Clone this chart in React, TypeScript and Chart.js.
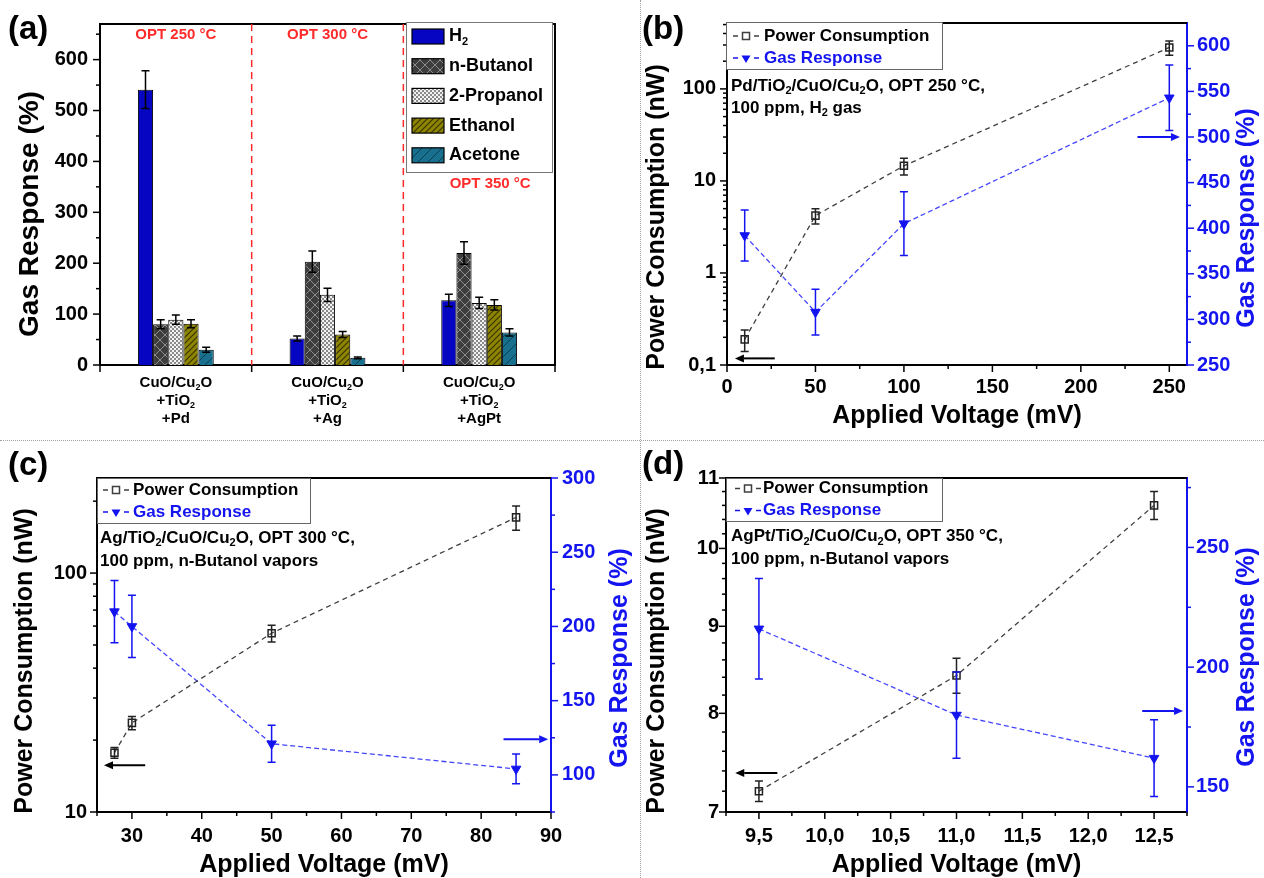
import React, { useEffect, useRef } from "react";
import { Chart, registerables } from "chart.js";

Chart.register(...registerables);

const FONT = '"Liberation Sans", Arial, Helvetica, sans-serif';
Chart.defaults.font.family = FONT;

const BLUE = "#1414f0";
const BLUE_DASH = "#4545ff";
const GRAY_DASH = "#3f3f3f";
const RED = "#ff2b2b";

// ---------------- Panel (a) data ----------------
const groupLabelsA = [
  ["CuO/Cu_2O", "+TiO_2", "+Pd"],
  ["CuO/Cu_2O", "+TiO_2", "+Ag"],
  ["CuO/Cu_2O", "+TiO_2", "+AgPt"],
];
const optLabelsA = ["OPT 250 °C", "OPT 300 °C", "OPT 350 °C"];
const gasNamesA = ["H_2", "n-Butanol", "2-Propanol", "Ethanol", "Acetone"];
const h2A = [541, 52, 127];
const h2ErrA = [37, 5, 12];
const butanolA = [80, 203, 220];
const butanolErrA = [9, 21, 22];
const propanolA = [89, 138, 122];
const propanolErrA = [9, 13, 11];
const ethanolA = [81, 60, 118];
const ethanolErrA = [8, 6, 10];
const acetoneA = [30, 14, 64];
const acetoneErrA = [5, 1.5, 7];
const yTicksA = [0, 100, 200, 300, 400, 500, 600];
const yMinorA = [50, 150, 250, 350, 450, 550, 650];

// ---------------- Panel (b) data ----------------
const voltageB = [10, 50, 100, 250];
const powerB = [0.19, 4.2, 14.6, 282];
const powerErrB = [0.05, 0.8, 3, 50];
const gasB = [392, 308, 405, 543];
const gasErrB = [28, 25, 35, 36];
const xTicksB = [0, 50, 100, 150, 200, 250];
const xMinorB = [25, 75, 125, 175, 225];
const yTicksB = [0.1, 1, 10, 100];
const yMinorB = [0.2, 0.3, 0.4, 0.5, 0.6, 0.7, 0.8, 0.9, 2, 3, 4, 5, 6, 7, 8, 9, 20, 30, 40, 50, 60, 70, 80, 90, 200, 300, 400, 500];
const y1TicksB = [250, 300, 350, 400, 450, 500, 550, 600];
const y1MinorB = [275, 325, 375, 425, 475, 525, 575];

// ---------------- Panel (c) data ----------------
const voltageC = [27.5, 30, 50, 85];
const powerC = [17.7, 23.6, 56, 171];
const powerErrC = [0.9, 1.5, 4.5, 20];
const gasC = [210, 200, 121, 104];
const gasErrC = [21, 21, 12.5, 10];
const xTicksC = [30, 40, 50, 60, 70, 80, 90];
const xMinorC = [25, 35, 45, 55, 65, 75, 85];
const yTicksC = [10, 100];
const yMinorC = [20, 30, 40, 50, 60, 70, 80, 90, 200];
const y1TicksC = [100, 150, 200, 250, 300];
const y1MinorC = [75, 125, 175, 225, 275];

// ---------------- Panel (d) data ----------------
const voltageD = [9.5, 11, 12.5];
const powerD = [7.2, 8.42, 10.6];
const powerErrD = [0.1, 0.2, 0.2];
const gasD = [216, 180, 162];
const gasErrD = [21, 18, 16];
const xTicksD = [9.5, 10, 10.5, 11, 11.5, 12, 12.5];
const xMinorD = [9.25, 9.75, 10.25, 10.75, 11.25, 11.75, 12.25, 12.75];
const yTicksD = [7, 8, 9, 10, 11];
const yMinorD = [7.2, 7.4, 7.6, 7.8, 8.2, 8.4, 8.6, 8.8, 9.2, 9.4, 9.6, 9.8, 10.2, 10.4, 10.6, 10.8];
const y1TicksD = [150, 200, 250];
const y1MinorD = [175, 225, 275];

// ---------------- helpers ----------------
function richText(ctx: CanvasRenderingContext2D, text: string, x: number, y: number, size: number, color: string, align = "left", rot = 0) {
  const segs: { t: string; sub: boolean; w: number }[] = [];
  let buf = "";
  for (let i = 0; i < text.length; i++) {
    if (text[i] === "_" && i + 1 < text.length) {
      if (buf) segs.push({ t: buf, sub: false, w: 0 });
      buf = "";
      segs.push({ t: text[i + 1], sub: true, w: 0 });
      i++;
    } else buf += text[i];
  }
  if (buf) segs.push({ t: buf, sub: false, w: 0 });
  const sub = Math.round(size * 0.62);
  let total = 0;
  for (const s of segs) {
    ctx.font = `bold ${s.sub ? sub : size}px ${FONT}`;
    s.w = ctx.measureText(s.t).width;
    total += s.w;
  }
  ctx.save();
  ctx.translate(x, y);
  if (rot) ctx.rotate(rot);
  ctx.fillStyle = color;
  ctx.textAlign = "left";
  ctx.textBaseline = "middle";
  let cx = align === "left" ? 0 : align === "center" ? -total / 2 : -total;
  for (const s of segs) {
    ctx.font = `bold ${s.sub ? sub : size}px ${FONT}`;
    ctx.fillText(s.t, cx, s.sub ? size * 0.32 : 0);
    cx += s.w;
  }
  ctx.restore();
}

function arrow(ctx: CanvasRenderingContext2D, x1: number, x2: number, y: number, color: string) {
  const dir = Math.sign(x2 - x1);
  const head = 9;
  const hw = 4;
  ctx.save();
  ctx.strokeStyle = color;
  ctx.fillStyle = color;
  ctx.lineWidth = 2;
  ctx.beginPath();
  ctx.moveTo(x1, y);
  ctx.lineTo(x2 - dir * head, y);
  ctx.stroke();
  ctx.beginPath();
  ctx.moveTo(x2, y);
  ctx.lineTo(x2 - dir * head, y - hw);
  ctx.lineTo(x2 - dir * head, y + hw);
  ctx.closePath();
  ctx.fill();
  ctx.restore();
}

function legendSym(ctx: CanvasRenderingContext2D, cx: number, cy: number, color: string, kind: string) {
  ctx.save();
  ctx.strokeStyle = color;
  ctx.fillStyle = color;
  ctx.lineWidth = 1.3;
  ctx.beginPath();
  ctx.moveTo(cx - 13, cy);
  ctx.lineTo(cx - 8, cy);
  ctx.moveTo(cx + 8, cy);
  ctx.lineTo(cx + 13, cy);
  ctx.stroke();
  if (kind === "square") {
    ctx.lineWidth = 1.5;
    ctx.strokeRect(cx - 3.5, cy - 3.5, 7, 7);
  } else {
    ctx.beginPath();
    ctx.moveTo(cx - 4.5, cy - 2.5);
    ctx.lineTo(cx + 4.5, cy - 2.5);
    ctx.lineTo(cx, cy + 5);
    ctx.closePath();
    ctx.fill();
  }
  ctx.restore();
}

function makePattern(kind: string): any {
  const c = document.createElement("canvas");
  const g = c.getContext("2d")!;
  if (kind === "cross") {
    c.width = 10; c.height = 10;
    g.fillStyle = "#3d3d3d"; g.fillRect(0, 0, 10, 10);
    g.strokeStyle = "#8c8c8c"; g.lineWidth = 1;
    g.beginPath(); g.moveTo(0, 0); g.lineTo(10, 10); g.moveTo(10, 0); g.lineTo(0, 10); g.stroke();
  } else if (kind === "check") {
    c.width = 4; c.height = 4;
    g.fillStyle = "#f2f2f2"; g.fillRect(0, 0, 4, 4);
    g.fillStyle = "#8a8a8a"; g.fillRect(0, 0, 2, 2); g.fillRect(2, 2, 2, 2);
  } else if (kind === "olive") {
    c.width = 6; c.height = 6;
    g.fillStyle = "#8d8400"; g.fillRect(0, 0, 6, 6);
    g.strokeStyle = "#3a3500"; g.lineWidth = 1.2;
    g.beginPath(); g.moveTo(-1, 7); g.lineTo(7, -1); g.moveTo(-1, 1); g.lineTo(1, -1); g.moveTo(5, 7); g.lineTo(7, 5); g.stroke();
  } else {
    c.width = 10; c.height = 10;
    g.fillStyle = "#18708e"; g.fillRect(0, 0, 10, 10);
    g.strokeStyle = "#0b3f52"; g.lineWidth = 1;
    g.beginPath(); g.moveTo(-1, 11); g.lineTo(11, -1); g.stroke();
  }
  return g.createPattern(c, "repeat");
}

const errorBars = {
  id: "errorBars",
  afterDatasetsDraw(chart: any) {
    const ctx = chart.ctx;
    chart.data.datasets.forEach((ds: any, di: number) => {
      if (!ds.errors) return;
      const meta = chart.getDatasetMeta(di);
      const ys = chart.scales[meta.yAxisID];
      ctx.save();
      ctx.strokeStyle = ds.errorColor || "#000";
      ctx.lineWidth = 1.5;
      const cap = ds.errorCap || 4;
      meta.data.forEach((el: any, i: number) => {
        const raw = ds.data[i];
        const v = typeof raw === "number" ? raw : raw.y;
        const e = ds.errors[i];
        const x = el.x;
        const yt = ys.getPixelForValue(v + e);
        const yb = ys.getPixelForValue(v - e);
        ctx.beginPath();
        ctx.moveTo(x, yt); ctx.lineTo(x, yb);
        ctx.moveTo(x - cap, yt); ctx.lineTo(x + cap, yt);
        ctx.moveTo(x - cap, yb); ctx.lineTo(x + cap, yb);
        ctx.stroke();
      });
      ctx.restore();
    });
  },
};

function tickMarks(spec: Record<string, { major: number[]; minor: number[]; color: string }>) {
  return {
    id: "tickMarks",
    afterDraw(chart: any) {
      const ctx = chart.ctx;
      Object.keys(spec).forEach((id) => {
        const s = chart.scales[id];
        const t = spec[id];
        ctx.save();
        ctx.strokeStyle = t.color;
        ctx.lineWidth = 1.5;
        const draw = (vals: number[], len: number) =>
          vals.forEach((v) => {
            const p = s.getPixelForValue(v);
            ctx.beginPath();
            if (s.position === "left") { ctx.moveTo(s.right, p); ctx.lineTo(s.right - len, p); }
            else if (s.position === "right") { ctx.moveTo(s.left, p); ctx.lineTo(s.left + len, p); }
            else { ctx.moveTo(p, s.top); ctx.lineTo(p, s.top + len); }
            ctx.stroke();
          });
        draw(t.major, 7);
        draw(t.minor, 4);
        ctx.restore();
      });
    },
  };
}

const tickFont = { size: 20, weight: "bold" as const };

function axisBase(color: string) {
  return {
    grid: { display: false, drawTicks: false },
    border: { display: true, color, width: 2 },
  };
}

// ---------------- Panel (a) ----------------
function makeA() {
  const fills = ["#0505c2", makePattern("cross"), makePattern("check"), makePattern("olive"), makePattern("teal")];
  const series = [h2A, butanolA, propanolA, ethanolA, acetoneA];
  const errs = [h2ErrA, butanolErrA, propanolErrA, ethanolErrA, acetoneErrA];
  const datasets = series.map((d, i) => ({
    label: gasNamesA[i],
    data: d,
    backgroundColor: fills[i],
    borderColor: "#000",
    borderWidth: 1,
    errors: errs[i],
    errorColor: "#000",
    errorCap: 4,
  }));
  const decor = {
    id: "decorA",
    afterDraw(chart: any) {
      const ctx = chart.ctx;
      const ca = chart.chartArea;
      const xs = chart.scales.x;
      ctx.save();
      ctx.strokeStyle = "#000";
      ctx.lineWidth = 2;
      ctx.beginPath();
      ctx.moveTo(ca.left, ca.top); ctx.lineTo(ca.right, ca.top); ctx.lineTo(ca.right, ca.bottom);
      ctx.stroke();
      // dividers
      ctx.strokeStyle = RED;
      ctx.lineWidth = 1.5;
      ctx.setLineDash([7, 5]);
      [0.5, 1.5].forEach((v) => {
        const px = xs.getPixelForValue(v);
        ctx.beginPath(); ctx.moveTo(px, ca.top); ctx.lineTo(px, ca.bottom); ctx.stroke();
      });
      ctx.setLineDash([]);
      ctx.restore();
      // OPT labels
      optLabelsA.forEach((t, i) => {
        const px = xs.getPixelForValue(i) + (i === 2 ? 11 : 0);
        richText(ctx, t, px, i === 2 ? 184 : 35, 15, RED, "center");
      });
      // legend
      ctx.save();
      ctx.fillStyle = "#fff";
      ctx.fillRect(406, 22, 147, 150);
      ctx.strokeStyle = "#777";
      ctx.lineWidth = 1;
      ctx.strokeRect(406.5, 22.5, 146, 150);
      chart.data.datasets.forEach((ds: any, i: number) => {
        const y = 29 + i * 29.7;
        ctx.fillStyle = ds.backgroundColor;
        ctx.fillRect(412, y, 32, 15);
        ctx.strokeStyle = "#000";
        ctx.lineWidth = 1.2;
        ctx.strokeRect(412, y, 32, 15);
        richText(ctx, ds.label, 449, y + 7.5, 18, "#000", "left");
      });
      ctx.restore();
      // category labels
      chart.data.labels.forEach((lines: string[], i: number) => {
        const px = xs.getPixelForValue(i);
        lines.forEach((ln, j) => richText(ctx, ln, px, 383 + j * 17.8, 15, "#000", "center"));
      });
      // titles
      richText(ctx, "Gas Response (%)", 30, 214, 28, "#000", "center", -Math.PI / 2);
      richText(ctx, "(a)", 8, 30, 33, "#000", "left");
    },
  };
  return {
    type: "bar",
    data: { labels: groupLabelsA, datasets },
    options: {
      responsive: false,
      animation: false,
      events: [],
      layout: { autoPadding: false, padding: { left: 0, top: 22, right: 75, bottom: 0 } },
      datasets: { bar: { categoryPercentage: 0.5, barPercentage: 1 } },
      plugins: { legend: { display: false }, tooltip: { enabled: false } },
      scales: {
        x: {
          type: "category",
          offset: true,
          ...axisBase("#000"),
          ticks: { display: false },
          afterFit: (s: any) => { s.height = 70; },
        },
        y: {
          min: 0,
          max: 670,
          ...axisBase("#000"),
          ticks: { font: tickFont, color: "#000", padding: 12, autoSkip: false },
          afterBuildTicks: (s: any) => { s.ticks = yTicksA.map((v) => ({ value: v })); },
          afterFit: (s: any) => { s.width = 100; },
        },
      },
    },
    plugins: [
      errorBars,
      tickMarks({
        x: { major: [-0.5, 0.5, 1.5, 2.5], minor: [], color: "#000" },
        y: { major: yTicksA, minor: yMinorA, color: "#000" },
      }),
      decor,
    ],
  };
}

// ---------------- line panels ----------------
interface LineSpec {
  id: string;
  label: string;
  voltage: number[];
  power: number[];
  powerErr: number[];
  gas: number[];
  gasErr: number[];
  xMin: number; xMax: number; xTicks: number[]; xMinor: number[]; xFmt: (v: number) => string;
  yMin: number; yMax: number; yTicks: number[]; yMinor: number[];
  y1Min: number; y1Max: number; y1Ticks: number[]; y1Minor: number[];
  leftW: number; rightW: number; bottomH: number; top: number;
  xPad: number; yPad: number; y1Pad: number;
  legendBox: [number, number, number, number];
  legendY: [number, number];
  legendSymX: number;
  legendTextX: number;
  noteLines: string[];
  noteX: number;
  noteY: [number, number];
  titleLeft: [number, number];
  titleRight: [number, number];
  titleXY: number;
  panelLabel: [number, number];
  blackArrow: [number, number, number];
  blueArrow: [number, number, number];
}

function makeLine(sp: LineSpec) {
  const decor = {
    id: "decorLine",
    afterDraw(chart: any) {
      const ctx = chart.ctx;
      const ca = chart.chartArea;
      const xs = chart.scales.x;
      const ys = chart.scales.y;
      const y1 = chart.scales.y1;
      ctx.save();
      ctx.strokeStyle = "#000";
      ctx.lineWidth = 2;
      ctx.beginPath();
      ctx.moveTo(ca.left - 1, ca.top);
      ctx.lineTo(ca.right, ca.top);
      ctx.stroke();
      // legend
      const [lx, ly, lw, lh] = sp.legendBox;
      ctx.fillStyle = "#fff";
      ctx.fillRect(lx, ly, lw, lh);
      ctx.strokeStyle = "#666";
      ctx.lineWidth = 1;
      ctx.strokeRect(lx + 0.5, ly + 0.5, lw, lh);
      ctx.restore();
      legendSym(ctx, sp.legendSymX, sp.legendY[0], GRAY_DASH, "square");
      legendSym(ctx, sp.legendSymX, sp.legendY[1], BLUE, "tri");
      richText(ctx, "Power Consumption", sp.legendTextX, sp.legendY[0], 17, "#000", "left");
      richText(ctx, "Gas Response", sp.legendTextX, sp.legendY[1], 17, BLUE, "left");
      // notes
      richText(ctx, sp.noteLines[0], sp.noteX, sp.noteY[0], 17, "#000", "left");
      richText(ctx, sp.noteLines[1], sp.noteX, sp.noteY[1], 17, "#000", "left");
      // arrows
      const [bx1, bx2, by] = sp.blackArrow;
      arrow(ctx, xs.getPixelForValue(bx1), xs.getPixelForValue(bx2), ys.getPixelForValue(by), "#000");
      const [ux1, ux2, uy] = sp.blueArrow;
      arrow(ctx, xs.getPixelForValue(ux1), xs.getPixelForValue(ux2), y1.getPixelForValue(uy), BLUE);
      // titles
      richText(ctx, "Power Consumption (nW)", sp.titleLeft[0], sp.titleLeft[1], 25, "#000", "center", -Math.PI / 2);
      richText(ctx, "Gas Response (%)", sp.titleRight[0], sp.titleRight[1], 25, BLUE, "center", -Math.PI / 2);
      richText(ctx, "Applied Voltage (mV)", (ca.left + ca.right) / 2, sp.titleXY, 25, "#000", "center");
      richText(ctx, sp.label, sp.panelLabel[0], sp.panelLabel[1], 33, "#000", "left");
    },
  };
  return {
    type: "line",
    data: {
      datasets: [
        {
          label: "Power Consumption",
          data: sp.voltage.map((x, i) => ({ x, y: sp.power[i] })),
          yAxisID: "y",
          borderColor: GRAY_DASH,
          borderWidth: 1.3,
          borderDash: [5, 4],
          fill: false,
          tension: 0,
          pointStyle: "rect",
          pointRadius: 5,
          pointBorderColor: "#222",
          pointBorderWidth: 1.5,
          pointBackgroundColor: "rgba(255,255,255,0)",
          errors: sp.powerErr,
          errorColor: "#222",
          errorCap: 4,
        },
        {
          label: "Gas Response",
          data: sp.voltage.map((x, i) => ({ x, y: sp.gas[i] })),
          yAxisID: "y1",
          borderColor: BLUE_DASH,
          borderWidth: 1.3,
          borderDash: [5, 3],
          fill: false,
          tension: 0,
          pointStyle: "triangle",
          rotation: 180,
          pointRotation: 180,
          pointRadius: 5.5,
          pointBorderColor: BLUE,
          pointBorderWidth: 1,
          pointBackgroundColor: BLUE,
          errors: sp.gasErr,
          errorColor: BLUE,
          errorCap: 4,
        },
      ],
    },
    options: {
      responsive: false,
      animation: false,
      events: [],
      layout: { autoPadding: false, padding: { left: 0, top: sp.top, right: 0, bottom: 0 } },
      plugins: { legend: { display: false }, tooltip: { enabled: false } },
      scales: {
        x: {
          type: "linear",
          position: "bottom",
          min: sp.xMin,
          max: sp.xMax,
          ...axisBase("#000"),
          ticks: { font: tickFont, color: "#000", padding: sp.xPad, autoSkip: false, maxRotation: 0, callback: (v: any) => sp.xFmt(Number(v)) },
          afterBuildTicks: (s: any) => { s.ticks = sp.xTicks.map((v) => ({ value: v })); },
          afterFit: (s: any) => { s.height = sp.bottomH; },
        },
        y: {
          type: "logarithmic",
          position: "left",
          min: sp.yMin,
          max: sp.yMax,
          ...axisBase("#000"),
          ticks: { font: tickFont, color: "#000", padding: sp.yPad, autoSkip: false, callback: (v: any) => String(v).replace(".", ",") },
          afterBuildTicks: (s: any) => { s.ticks = sp.yTicks.map((v) => ({ value: v })); },
          afterFit: (s: any) => { s.width = sp.leftW; },
        },
        y1: {
          type: "linear",
          position: "right",
          min: sp.y1Min,
          max: sp.y1Max,
          ...axisBase(BLUE),
          ticks: { font: tickFont, color: BLUE, padding: sp.y1Pad, autoSkip: false },
          afterBuildTicks: (s: any) => { s.ticks = sp.y1Ticks.map((v) => ({ value: v })); },
          afterFit: (s: any) => { s.width = sp.rightW; },
        },
      },
    },
    plugins: [
      errorBars,
      tickMarks({
        x: { major: sp.xTicks, minor: sp.xMinor, color: "#000" },
        y: { major: sp.yTicks, minor: sp.yMinor, color: "#000" },
        y1: { major: sp.y1Ticks, minor: sp.y1Minor, color: BLUE },
      }),
      decor,
    ],
  };
}

const intFmt = (v: number) => String(v);
const commaFmt = (v: number) => v.toFixed(1).replace(".", ",");

function makeB() {
  return makeLine({
    id: "b", label: "(b)",
    voltage: voltageB, power: powerB, powerErr: powerErrB, gas: gasB, gasErr: gasErrB,
    xMin: 0, xMax: 260, xTicks: xTicksB, xMinor: xMinorB, xFmt: intFmt,
    yMin: 0.1, yMax: 520, yTicks: yTicksB, yMinor: yMinorB,
    y1Min: 250, y1Max: 625, y1Ticks: y1TicksB, y1Minor: y1MinorB,
    leftW: 87, rightW: 77, bottomH: 70, top: 22,
    xPad: 10, yPad: 11, y1Pad: 10,
    legendBox: [86, 22, 216, 47], legendY: [36, 58], legendSymX: 106, legendTextX: 124,
    noteLines: ["Pd/TiO_2/CuO/Cu_2O, OPT 250 °C,", "100 ppm, H_2 gas"], noteX: 91, noteY: [86, 108],
    titleLeft: [17, 217], titleRight: [607, 218], titleXY: 416, panelLabel: [2, 30],
    blackArrow: [27, 4.5, 0.118], blueArrow: [232, 256, 500],
  });
}

function makeC() {
  return makeLine({
    id: "c", label: "(c)",
    voltage: voltageC, power: powerC, powerErr: powerErrC, gas: gasC, gasErr: gasErrC,
    xMin: 25, xMax: 90, xTicks: xTicksC, xMinor: xMinorC, xFmt: intFmt,
    yMin: 10, yMax: 250, yTicks: yTicksC, yMinor: yMinorC,
    y1Min: 75, y1Max: 300, y1Ticks: y1TicksC, y1Minor: y1MinorC,
    leftW: 97, rightW: 89, bottomH: 66, top: 38,
    xPad: 12, yPad: 10, y1Pad: 11,
    legendBox: [97, 38, 213, 45], legendY: [50, 72], legendSymX: 116, legendTextX: 133,
    noteLines: ["Ag/TiO_2/CuO/Cu_2O, OPT 300 °C,", "100 ppm, n-Butanol vapors"], noteX: 100, noteY: [98, 121],
    titleLeft: [25, 221], titleRight: [620, 218], titleXY: 425, panelLabel: [8, 26],
    blackArrow: [31.9, 26, 15.7], blueArrow: [83.2, 89.6, 124],
  });
}

function makeD() {
  return makeLine({
    id: "d", label: "(d)",
    voltage: voltageD, power: powerD, powerErr: powerErrD, gas: gasD, gasErr: gasErrD,
    xMin: 9.25, xMax: 12.75, xTicks: xTicksD, xMinor: xMinorD, xFmt: commaFmt,
    yMin: 7, yMax: 11, yTicks: yTicksD, yMinor: yMinorD,
    y1Min: 139.5, y1Max: 279, y1Ticks: y1TicksD, y1Minor: y1MinorD,
    leftW: 86, rightW: 77, bottomH: 66, top: 38,
    xPad: 12, yPad: 7, y1Pad: 9,
    legendBox: [86, 38, 216, 43], legendY: [48.5, 70.5], legendSymX: 108, legendTextX: 123,
    noteLines: ["AgPt/TiO_2/CuO/Cu_2O, OPT 350 °C,", "100 ppm, n-Butanol vapors"], noteX: 91, noteY: [96.5, 119],
    titleLeft: [17, 221], titleRight: [607, 217], titleXY: 425, panelLabel: [2, 25],
    blackArrow: [9.64, 9.32, 7.38], blueArrow: [12.41, 12.72, 181.7],
  });
}

function Panel({ x, y, w, h, make }: { x: number; y: number; w: number; h: number; make: () => any }) {
  const ref = useRef<HTMLCanvasElement>(null);
  useEffect(() => {
    const chart = new Chart(ref.current as HTMLCanvasElement, make());
    return () => chart.destroy();
  }, []);
  return (
    <div style={{ position: "absolute", left: x, top: y, width: w, height: h }}>
      <canvas ref={ref} width={w} height={h} style={{ width: w, height: h, display: "block" }} />
    </div>
  );
}

export default function App() {
  return (
    <div style={{ position: "absolute", left: 0, top: 0, width: 1264, height: 878, background: "#fff", overflow: "hidden" }}>
      <div style={{ position: "absolute", left: 0, top: 440, width: 1264, height: 0, borderTop: "1px dotted #a0a0a0" }} />
      <div style={{ position: "absolute", left: 640, top: 0, width: 0, height: 878, borderLeft: "1px dotted #a0a0a0" }} />
      <Panel x={0} y={0} w={630} h={435} make={makeA} />
      <Panel x={640} y={0} w={624} h={435} make={makeB} />
      <Panel x={0} y={440} w={640} h={438} make={makeC} />
      <Panel x={640} y={440} w={624} h={438} make={makeD} />
    </div>
  );
}
